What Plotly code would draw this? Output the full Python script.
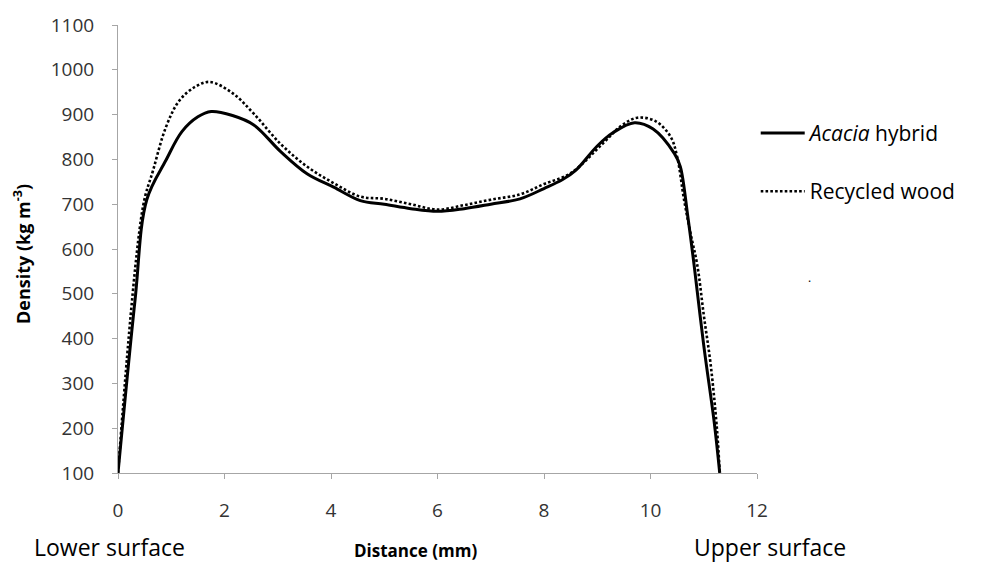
import plotly.graph_objects as go

# Density profile across the board thickness
acacia_x = [0, 0.32, 0.54, 0.9, 1.2, 1.5, 1.75, 2.15, 2.55, 3.05, 3.55, 4.05, 4.55,
            5.0, 5.5, 6.0, 6.5, 7.0, 7.55, 8.0, 8.35, 8.6, 9.0, 9.3, 9.7, 10.05,
            10.45, 10.56, 10.7, 10.82, 11.0, 11.2, 11.3]
acacia_y = [100, 486, 710, 798, 862, 895, 907, 898, 877, 818, 768, 738, 708,
            700, 690, 684, 690, 700, 712, 735, 755, 776, 830, 860, 882, 868,
            813, 784, 673, 563, 385, 210, 100]

recycled_x = [0, 0.47, 0.66, 0.9, 1.15, 1.45, 1.72, 2.15, 2.55, 3.05, 3.55, 4.05,
              4.55, 5.0, 5.5, 6.0, 6.5, 7.0, 7.55, 8.0, 8.5, 9.1, 9.45, 9.75,
              10.1, 10.38, 10.5, 10.63, 10.75, 10.88, 11.0, 11.13, 11.25, 11.3]
recycled_y = [100, 695, 776, 872, 931, 962, 973, 948, 902, 835, 784, 747,
              717, 712, 700, 688, 698, 710, 722, 745, 769, 835, 875, 893,
              885, 850, 806, 710, 636, 563, 453, 342, 195, 100]

x_ticks = [0, 2, 4, 6, 8, 10, 12]
y_ticks = [100, 200, 300, 400, 500, 600, 700, 800, 900, 1000, 1100]

FONT = "Open Sans"
AXIS_GREY = "#a6a6a6"
TEXT = "#333333"

fig = go.Figure()
fig.add_trace(go.Scatter(
    x=acacia_x, y=acacia_y, mode="lines", name="<i>Acacia</i> hybrid",
    legendgroup="a",
    line=dict(color="black", width=3, shape="spline", smoothing=1.0),
))
fig.add_trace(go.Scatter(
    x=recycled_x, y=recycled_y, mode="lines", name="Recycled wood",
    legendgroup="b",
    line=dict(color="black", width=2.6, dash="2.6px,2.2px", shape="spline", smoothing=1.0),
))

fig.update_layout(
    width=983, height=566,
    margin=dict(l=118, r=226, t=20, b=93),
    plot_bgcolor="white", paper_bgcolor="white",
    font=dict(family=FONT, color=TEXT, size=18),
    showlegend=True,
    legend=dict(
        x=0.998, y=0.804, xanchor="left", yanchor="top",
        font=dict(family=FONT, size=21, color="black"),
        traceorder="grouped", tracegroupgap=28, itemwidth=44,
        bgcolor="rgba(0,0,0,0)",
    ),
    xaxis=dict(
        range=[0, 12], tickvals=x_ticks, ticktext=[str(v) for v in x_ticks],
        showgrid=False, zeroline=False, showline=True, linecolor=AXIS_GREY, linewidth=1,
        ticks="outside", ticklen=5, tickcolor=AXIS_GREY,
        tickfont=dict(family=FONT, size=19, color=TEXT),
        ticklabelstandoff=15,
    ),
    yaxis=dict(
        range=[100, 1100], tickvals=y_ticks, ticktext=[str(v) for v in y_ticks],
        showgrid=False, zeroline=False, showline=True, linecolor=AXIS_GREY, linewidth=1,
        ticks="outside", ticklen=5, tickcolor=AXIS_GREY,
        tickfont=dict(family=FONT, size=19, color=TEXT),
        ticklabelstandoff=14,
    ),
)

annotations = [
    dict(text="<b>Density (kg m<sup>-3</sup>)</b>", x=-0.150, y=0.489,
         xanchor="center", yanchor="middle", textangle=-90,
         font=dict(family=FONT, size=18, color="black")),
    dict(text="<b>Distance (mm)</b>", x=0.466, y=-0.172,
         xanchor="center", yanchor="middle",
         font=dict(family=FONT, size=17, color="black")),
    dict(text="Lower surface", x=-0.135, y=-0.1656,
         xanchor="left", yanchor="middle",
         font=dict(family=FONT, size=23, color="black")),
    dict(text="Upper surface", x=0.898, y=-0.1656,
         xanchor="left", yanchor="middle",
         font=dict(family=FONT, size=23, color="black")),
    dict(text=".", x=1.082, y=0.437, xanchor="center", yanchor="middle",
         font=dict(family=FONT, size=12, color="black")),
]
for a in annotations:
    a.update(xref="paper", yref="paper", showarrow=False)
fig.update_layout(annotations=annotations)

fig.write_html("out.html")
